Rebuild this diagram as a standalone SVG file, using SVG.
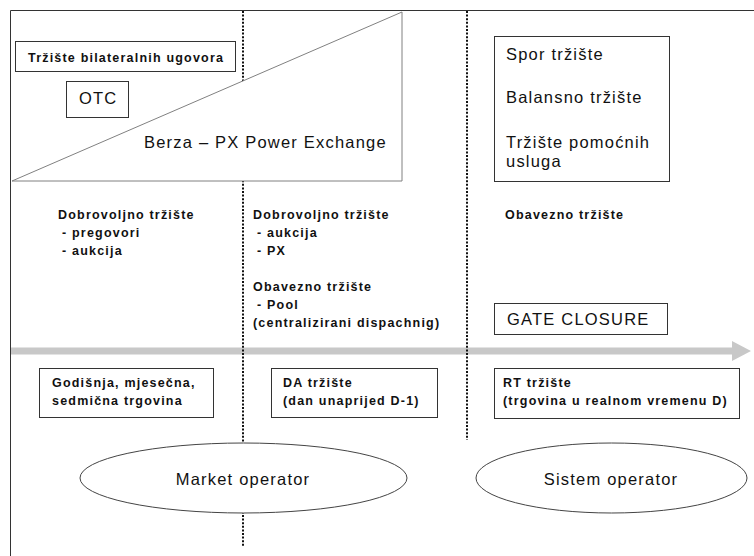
<svg xmlns="http://www.w3.org/2000/svg" width="754" height="556" viewBox="0 0 754 556">
<style>
.b{font-family:"Liberation Sans",Arial,sans-serif;font-size:12.5px;font-weight:bold;letter-spacing:1.2px;fill:#111}
.r{font-family:"Liberation Sans",Arial,sans-serif;font-size:16.5px;letter-spacing:1.2px;fill:#111}
.box{fill:#fff;stroke:#333;stroke-width:1}
.dot{stroke:#111;stroke-width:2;stroke-dasharray:2 1.6;fill:none}
.ell{fill:#fff;stroke:#444;stroke-width:1}
</style>
<rect width="754" height="556" fill="#fff"/>
<path d="M10.5,556 V10.5 H754" fill="none" stroke="#333" stroke-width="1"/>
<g id="connectors">
<path d="M11,347.5 H732 V341 L751,351 L732,361 V354.5 H11 Z" fill="#c8c8c8"/>
<line class="dot" x1="243" y1="11" x2="243" y2="546"/>
<line class="dot" x1="467" y1="11" x2="467" y2="440"/>
</g>
<g id="px">
<polygon points="12,181 402,12 402,181" fill="#fff" stroke="#808080" stroke-width="1"/>
<text class="r" x="144" y="148" letter-spacing="1.3">Berza – PX Power Exchange</text>
</g>
<g id="bilateral">
<rect class="box" x="15.5" y="41.5" width="220" height="30"/>
<text class="b" x="28" y="62">Tržište bilateralnih ugovora</text>
</g>
<g id="otc">
<rect class="box" x="66.5" y="81.5" width="62" height="36"/>
<text class="r" x="79" y="104" letter-spacing="0.6">OTC</text>
</g>
<g id="spot">
<rect class="box" x="494.5" y="36.5" width="175" height="145"/>
<text class="r" x="506" y="60">Spor tržište</text>
<text class="r" x="506" y="103">Balansno tržište</text>
<text class="r" x="506" y="148">Tržište pomoćnih</text>
<text class="r" x="506" y="167">usluga</text>
</g>
<g id="col1">
<text class="b" x="58" y="219">Dobrovoljno tržište</text>
<text class="b" x="62" y="237">- pregovori</text>
<text class="b" x="62" y="255">- aukcija</text>
</g>
<g id="col2">
<text class="b" x="253" y="219">Dobrovoljno tržište</text>
<text class="b" x="257" y="237">- aukcija</text>
<text class="b" x="257" y="255">- PX</text>
<text class="b" x="253" y="291">Obavezno tržište</text>
<text class="b" x="257" y="309">- Pool</text>
<text class="b" x="253" y="327">(centralizirani dispachnig)</text>
</g>
<g id="col3">
<text class="b" x="505" y="219">Obavezno tržište</text>
</g>
<g id="gate">
<rect class="box" x="494.5" y="303.5" width="173" height="31"/>
<text class="r" x="507" y="325" letter-spacing="1">GATE CLOSURE</text>
</g>
<g id="annual">
<rect class="box" x="39.5" y="368.5" width="174" height="49"/>
<text class="b" x="52" y="387">Godišnja, mjesečna,</text>
<text class="b" x="52" y="405">sedmična trgovina</text>
</g>
<g id="da">
<rect class="box" x="271.5" y="368.5" width="166" height="49"/>
<text class="b" x="283" y="387">DA tržište</text>
<text class="b" x="283" y="405">(dan unaprijed D-1)</text>
</g>
<g id="rt">
<rect class="box" x="494.5" y="368.5" width="245" height="50"/>
<text class="b" x="503" y="387">RT tržište</text>
<text class="b" x="503" y="405">(trgovina u realnom vremenu D)</text>
</g>
<g id="market">
<ellipse class="ell" cx="243.5" cy="478" rx="163.5" ry="35"/>
<text class="r" x="243" y="485" text-anchor="middle" letter-spacing="0.6">Market operator</text>
</g>
<g id="sistem">
<ellipse class="ell" cx="611.5" cy="478" rx="135.5" ry="35"/>
<text class="r" x="611" y="485" text-anchor="middle" letter-spacing="1.4">Sistem operator</text>
</g>
</svg>
